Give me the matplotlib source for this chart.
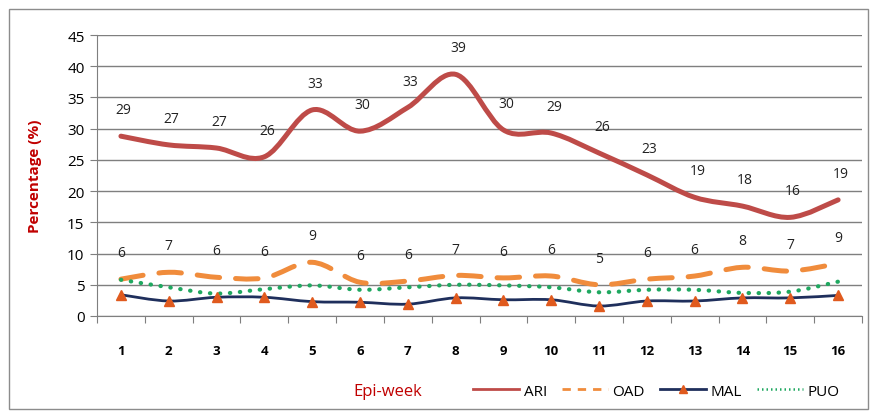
import numpy as np
import matplotlib
matplotlib.use('Agg')
import matplotlib.pyplot as plt
from matplotlib.path import Path
from matplotlib.patches import PathPatch, Rectangle
from matplotlib.lines import Line2D

plt.rcParams['font.family'] = ['Open Sans', 'DejaVu Sans']

weeks = list(range(1, 17))
ari = [28.8, 27.4, 26.9, 25.5, 33.0, 29.6, 33.4, 38.7, 29.8, 29.3, 26.1, 22.6, 19.0, 17.6, 15.8, 18.6]
oad = [5.9, 7.0, 6.2, 6.1, 8.6, 5.4, 5.6, 6.5, 6.1, 6.4, 5.0, 5.9, 6.4, 7.8, 7.2, 8.4]
mal = [3.4, 2.4, 3.0, 3.0, 2.3, 2.2, 1.9, 2.9, 2.6, 2.6, 1.6, 2.4, 2.4, 2.9, 2.9, 3.3]
puo = [5.8, 4.6, 3.6, 4.3, 4.9, 4.2, 4.6, 5.0, 4.9, 4.6, 3.8, 4.2, 4.2, 3.7, 3.9, 5.5]
ari_labels = [29, 27, 27, 26, 33, 30, 33, 39, 30, 29, 26, 23, 19, 18, 16, 19]
oad_labels = [6, 7, 6, 6, 9, 6, 6, 7, 6, 6, 5, 6, 6, 8, 7, 9]

C_ARI = '#be4b48'
C_OAD = '#f08c3c'
C_MAL = '#1f2f5c'
C_MRK = '#e05a1e'
C_PUO = '#1fa860'
C_RED = '#c00000'


def smooth_path(x, y):
    # excel-like smoothed line as cubic bezier segments
    pts = np.column_stack([x, y]).astype(float)
    n = len(pts)
    verts = [pts[0]]
    codes = [Path.MOVETO]
    for i in range(n - 1):
        p0 = pts[max(i - 1, 0)]
        p1 = pts[i]
        p2 = pts[i + 1]
        p3 = pts[min(i + 2, n - 1)]
        c1 = p1 + (p2 - p0) / 6.0
        c2 = p2 - (p3 - p1) / 6.0
        verts += [c1, c2, p2]
        codes += [Path.CURVE4] * 3
    return Path(verts, codes)


def draw_smooth(ax, x, y, **kw):
    patch = PathPatch(smooth_path(x, y), fill=False, transform=ax.transData, **kw)
    ax.add_patch(patch)


fig = plt.figure(figsize=(8.78, 4.14), dpi=100)
ax = fig.add_axes([0.1105, 0.2343, 0.8713, 0.6787])

ax.set_xlim(0.5, 16.5)
ax.set_ylim(0, 45)
ax.set_yticks(range(0, 50, 5))
ax.yaxis.grid(True, color='#7f7f7f', linewidth=1.0)
ax.set_axisbelow(True)

draw_smooth(ax, weeks, ari, edgecolor=C_ARI, linewidth=3.6, capstyle='round', joinstyle='round', zorder=3)
draw_smooth(ax, weeks, oad, edgecolor=C_OAD, linewidth=3.6, linestyle=(0, (4.5, 3.2)), capstyle='round', zorder=3)
draw_smooth(ax, weeks, puo, edgecolor=C_PUO, linewidth=3.0, linestyle=(0, (0.1, 2.3)), capstyle='round', zorder=3)
draw_smooth(ax, weeks, mal, edgecolor=C_MAL, linewidth=2.0, zorder=4)
ax.plot(weeks, mal, linestyle='none', marker='^', markersize=7, color=C_MRK, zorder=5)

for w, v, lab in zip(weeks, ari, ari_labels):
    ax.annotate(str(lab), (w, v), xytext=(2, 19), textcoords='offset points',
                ha='center', va='center', fontsize=10, color='#222222')
for w, v, lab in zip(weeks, oad, oad_labels):
    ax.annotate(str(lab), (w, v), xytext=(0, 19), textcoords='offset points',
                ha='center', va='center', fontsize=10, color='#222222')

# category ticks between weeks, labels in the middle
ax.set_xticks(np.arange(0.5, 17, 1))
ax.set_xticklabels([])
ax.set_xticks(weeks, minor=True)
ax.set_xticklabels([str(w) for w in weeks], minor=True, fontweight='bold', fontsize=9.5)
ax.tick_params(axis='x', which='major', length=5, color='#7f7f7f', direction='out')
ax.tick_params(axis='x', which='minor', length=0, pad=20)
ax.tick_params(axis='y', length=5, color='#7f7f7f', labelsize=11, pad=4)

for s in ['top', 'right']:
    ax.spines[s].set_visible(False)
for s in ['left', 'bottom']:
    ax.spines[s].set_color('#7f7f7f')

fig.text(0.040, 0.575, 'Percentage (%)', rotation=90, ha='center', va='center',
         fontsize=11, fontweight='bold', color=C_RED)
fig.text(0.442, 0.053, 'Epi-week', ha='center', va='center', fontsize=12, color=C_RED)

handles = [
    Line2D([], [], color=C_ARI, linewidth=2),
    Line2D([], [], color=C_OAD, linewidth=2, linestyle=(0, (3, 2.5))),
    Line2D([], [], color=C_MAL, linewidth=2, marker='^', markersize=6,
           markerfacecolor=C_MRK, markeredgecolor=C_MRK),
    Line2D([], [], color=C_PUO, linewidth=1.8, linestyle=(0, (0.6, 1.2))),
]
fig.legend(handles, ['ARI', 'OAD', 'MAL', 'PUO'], loc='center right',
           bbox_to_anchor=(0.972, 0.053), ncol=4, frameon=False, fontsize=11,
           handlelength=3.0, handletextpad=0.3, columnspacing=1.0)

fig.patches.append(Rectangle((0.010, 0.010), 0.979, 0.965, transform=fig.transFigure,
                             fill=False, edgecolor='#8c8c8c', linewidth=1.0))

fig.savefig('out.png', dpi=100)
